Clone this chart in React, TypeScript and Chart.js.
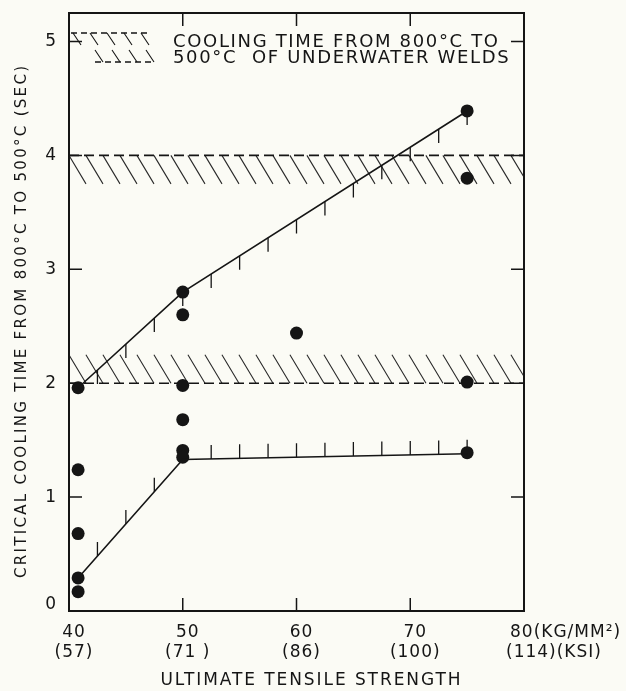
import React, { useEffect, useRef } from 'react';
import { Chart, registerables } from 'chart.js';

Chart.register(...registerables);

// ---- data ----
const xTickValues = [40, 50, 60, 70, 80];
const xTickMain = ['40', '50', '60', '70', '80(KG/MM²)'];
const xTickSub = ['(57)', '(71 )', '(86)', '(100)', '(114)(KSI)'];
const yTickValues = [0, 1, 2, 3, 4, 5];
const innerTickY = [1, 2, 3, 4, 5];
const innerTickX = [50, 60, 70];

const pointX = [40.8, 40.8, 40.8, 40.8, 40.8, 50, 50, 50, 50, 50, 50, 60, 75, 75, 75, 75];
const pointY = [1.96, 1.24, 0.68, 0.29, 0.17, 2.8, 2.6, 1.98, 1.68, 1.41, 1.35, 2.44, 4.39, 3.8, 2.01, 1.39];

const upperLineX = [40.8, 50, 75];
const upperLineY = [1.96, 2.8, 4.39];
const lowerLineX = [40.8, 50, 75];
const lowerLineY = [0.29, 1.33, 1.38];
const lineTickX = [42.5, 45, 47.5, 50, 52.5, 55, 57.5, 60, 62.5, 65, 67.5, 70, 72.5, 75];

const upperBand = [3.75, 4.0]; // dashed edge at 4.0
const lowerBand = [2.0, 2.25]; // dashed edge at 2.0

const xTitle = 'ULTIMATE TENSILE STRENGTH';
const yTitle = 'CRITICAL COOLING TIME FROM 800°C TO 500°C (SEC)';
const legendLines = ['COOLING TIME FROM 800°C TO', '500°C  OF UNDERWATER WELDS'];

const INK = '#151515';
const BG = '#fbfbf5';
const FONT = '"DejaVu Sans", sans-serif';

function interp(xs: number[], ys: number[], x: number): number | null {
  for (let i = 0; i < xs.length - 1; i++) {
    if (x >= xs[i] && x <= xs[i + 1]) {
      const t = (x - xs[i]) / (xs[i + 1] - xs[i]);
      return ys[i] + t * (ys[i + 1] - ys[i]);
    }
  }
  return null;
}

function fitSpacing(ctx: any, text: string, target: number): number {
  ctx.letterSpacing = '0px';
  const w = ctx.measureText(text).width;
  return Math.max(0, (target - w) / Math.max(1, text.length - 1));
}

const deco = {
  id: 'deco',
  beforeDraw(chart: any) {
    const { ctx, width, height } = chart;
    ctx.save();
    ctx.fillStyle = BG;
    ctx.fillRect(0, 0, width, height);
    ctx.restore();
  },
  beforeDatasetsDraw(chart: any) {
    const { ctx, chartArea: a, scales } = chart;
    const xs = scales.x, ys = scales.y;
    ctx.save();
    ctx.beginPath();
    ctx.rect(a.left, a.top, a.right - a.left, a.bottom - a.top);
    ctx.clip();
    const drawBand = (band: number[], dashedAt: number) => {
      const yTop = ys.getPixelForValue(band[1]);
      const yBot = ys.getPixelForValue(band[0]);
      const h = yBot - yTop;
      const dx = h * 0.6;
      ctx.strokeStyle = '#2a2a2a';
      ctx.lineWidth = 1.1;
      ctx.setLineDash([]);
      ctx.beginPath();
      for (let sx = a.left - dx; sx < a.right + 2; sx += 17) {
        ctx.moveTo(sx, yTop);
        ctx.lineTo(sx + dx, yBot);
      }
      ctx.stroke();
      const yd = ys.getPixelForValue(dashedAt);
      ctx.strokeStyle = INK;
      ctx.lineWidth = 1.6;
      ctx.setLineDash([10, 5]);
      ctx.beginPath();
      ctx.moveTo(a.left, yd);
      ctx.lineTo(a.right, yd);
      ctx.stroke();
      ctx.setLineDash([]);
    };
    drawBand(upperBand, upperBand[1]);
    drawBand(lowerBand, lowerBand[0]);
    ctx.strokeStyle = INK;
    ctx.lineWidth = 1.3;
    ctx.beginPath();
    for (const tx of lineTickX) {
      const u = interp(upperLineX, upperLineY, tx);
      if (u !== null) {
        const px = xs.getPixelForValue(tx), py = ys.getPixelForValue(u);
        ctx.moveTo(px, py);
        ctx.lineTo(px, py + 14);
      }
      const l = interp(lowerLineX, lowerLineY, tx);
      if (l !== null) {
        const px = xs.getPixelForValue(tx), py = ys.getPixelForValue(l);
        ctx.moveTo(px, py);
        ctx.lineTo(px, py - 14);
      }
    }
    ctx.stroke();
    ctx.restore();
  },
  afterDraw(chart: any) {
    const { ctx, chartArea: a, scales } = chart;
    const xs = scales.x, ys = scales.y;
    ctx.save();
    ctx.strokeStyle = INK;
    ctx.fillStyle = INK;
    ctx.lineWidth = 2;
    ctx.strokeRect(a.left, a.top, a.right - a.left, a.bottom - a.top);
    ctx.lineWidth = 1.5;
    ctx.beginPath();
    for (const v of innerTickY) {
      const py = ys.getPixelForValue(v);
      ctx.moveTo(a.left, py); ctx.lineTo(a.left + 13, py);
      ctx.moveTo(a.right, py); ctx.lineTo(a.right - 13, py);
    }
    for (const v of innerTickX) {
      const px = xs.getPixelForValue(v);
      ctx.moveTo(px, a.bottom); ctx.lineTo(px, a.bottom - 13);
      ctx.moveTo(px, a.top); ctx.lineTo(px, a.top + 13);
    }
    ctx.stroke();

    ctx.font = `17px ${FONT}`;
    ctx.textAlign = 'right';
    ctx.textBaseline = 'middle';
    for (const v of yTickValues) {
      ctx.fillText(String(v), a.left - 13, ys.getPixelForValue(v) - (v === 0 ? 6 : 0));
    }
    (ctx as any).letterSpacing = '1px';
    xTickValues.forEach((v, i) => {
      const px = xs.getPixelForValue(v);
      if (i === xTickValues.length - 1) {
        ctx.textAlign = 'left';
        ctx.fillText(xTickMain[i], px - 14, a.bottom + 22);
        ctx.fillText(xTickSub[i], px - 18, a.bottom + 42);
      } else {
        ctx.textAlign = 'center';
        ctx.fillText(xTickMain[i], px + 5, a.bottom + 22);
        ctx.fillText(xTickSub[i], px + 5, a.bottom + 42);
      }
    });
    ctx.textAlign = 'center';
    const xsp = fitSpacing(ctx, xTitle, 300);
    (ctx as any).letterSpacing = `${xsp}px`;
    ctx.fillText(xTitle, (a.left + a.right) / 2 + 14 + xsp / 2, a.bottom + 70);

    ctx.save();
    ctx.translate(22, (a.top + a.bottom) / 2 + 10);
    ctx.rotate(-Math.PI / 2);
    ctx.font = `15px ${FONT}`;
    const ysp = fitSpacing(ctx, yTitle, 512);
    (ctx as any).letterSpacing = `${ysp}px`;
    ctx.textAlign = 'center';
    ctx.textBaseline = 'middle';
    ctx.fillText(yTitle, ysp / 2, 0);
    ctx.restore();

    // legend
    const l0 = a.left + 2;
    const r1 = a.top + 20, r2 = a.top + 49;
    ctx.lineWidth = 1.3;
    ctx.setLineDash([6, 4]);
    ctx.beginPath();
    ctx.moveTo(l0, r1); ctx.lineTo(l0 + 80, r1);
    ctx.moveTo(l0 + 24, r2); ctx.lineTo(l0 + 80, r2);
    ctx.stroke();
    ctx.setLineDash([]);
    ctx.lineWidth = 1.1;
    ctx.beginPath();
    for (let k = 0; k < 5; k++) {
      const sx = l0 + 2 + k * 17;
      ctx.moveTo(sx, r1); ctx.lineTo(sx + 8, r1 + 12);
    }
    for (let k = 0; k < 4; k++) {
      const sx = l0 + 24 + k * 17;
      ctx.moveTo(sx, r2 - 12); ctx.lineTo(sx + 8, r2);
    }
    ctx.stroke();
    ctx.font = `18px ${FONT}`;
    const lsp = fitSpacing(ctx, legendLines[0], 325);
    (ctx as any).letterSpacing = `${lsp}px`;
    ctx.textAlign = 'left';
    ctx.textBaseline = 'alphabetic';
    ctx.fillText(legendLines[0], a.left + 104, r1 + 14);
    ctx.fillText(legendLines[1], a.left + 104, r2 + 1);
    ctx.restore();
  },
};

export default function App() {
  const ref = useRef<HTMLCanvasElement>(null);
  useEffect(() => {
    document.body.style.margin = '0';
    const canvas = ref.current!;
    const chart = new Chart(canvas, {
      type: 'scatter',
      data: {
        datasets: [
          {
            data: upperLineX.map((x, i) => ({ x, y: upperLineY[i] })),
            showLine: true,
            borderColor: INK,
            borderWidth: 1.6,
            pointRadius: 0,
          },
          {
            data: lowerLineX.map((x, i) => ({ x, y: lowerLineY[i] })),
            showLine: true,
            borderColor: INK,
            borderWidth: 1.6,
            pointRadius: 0,
          },
          {
            data: pointX.map((x, i) => ({ x, y: pointY[i] })),
            showLine: false,
            pointRadius: 6.5,
            pointBackgroundColor: INK,
            pointBorderWidth: 0,
          },
        ],
      } as any,
      options: {
        responsive: false,
        animation: false,
        devicePixelRatio: 1,
        layout: { padding: { top: 13, right: 102, left: 0, bottom: 0 } },
        plugins: { legend: { display: false }, tooltip: { enabled: false } },
        scales: {
          x: {
            type: 'linear', min: 40, max: 80,
            grid: { display: false }, border: { display: false },
            ticks: { display: false },
            afterFit: (s: any) => { s.height = 80; },
          },
          y: {
            type: 'linear', min: 0, max: 5.25,
            grid: { display: false }, border: { display: false },
            ticks: { display: false },
            afterFit: (s: any) => { s.width = 69; },
          },
        },
      } as any,
      plugins: [deco],
    });
    return () => chart.destroy();
  }, []);
  return (
    <div style={{ width: 626, height: 691 }}>
      <canvas ref={ref} width={626} height={691} style={{ display: 'block' }} />
    </div>
  );
}
